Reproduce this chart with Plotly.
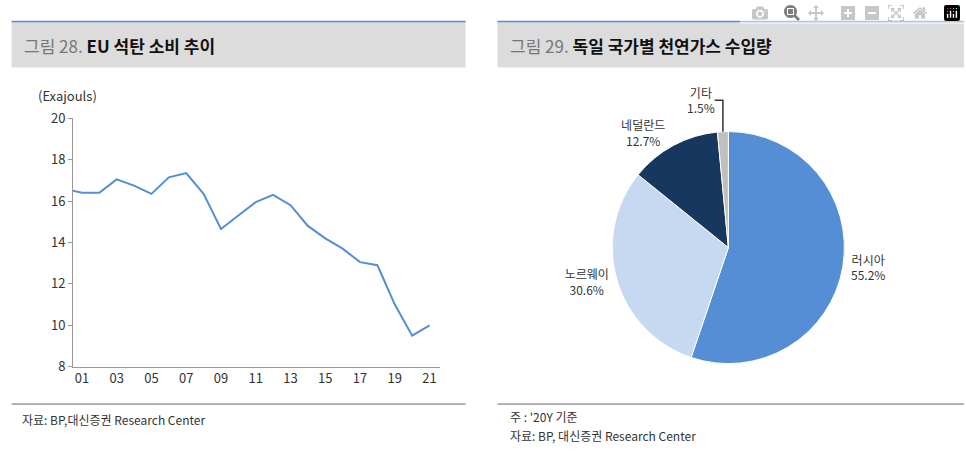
import plotly.graph_objects as go

years = list(range(2000, 2022))
coal = [16.6, 16.4, 16.4, 17.05, 16.75, 16.35, 17.15, 17.35, 16.35, 14.65, 15.3,
        15.95, 16.3, 15.8, 14.8, 14.2, 13.7, 13.05, 12.9, 11.0, 9.5, 10.0]
tick_vals = list(range(2001, 2022, 2))
tick_text = ['%02d' % (y % 100) for y in tick_vals]

countries = ['러시아', '노르웨이', '네덜란드', '기타']
shares = [55.2, 30.6, 12.7, 1.5]
pie_colors = ['#558ed5', '#c6d9f1', '#17375e', '#bfbfbf']

font = 'Noto Sans CJK KR'
fig = go.Figure()
fig.add_trace(go.Scatter(x=years, y=coal, mode='lines', cliponaxis=True,
                         line=dict(color='#558ed5', width=2), showlegend=False))
fig.add_trace(go.Pie(labels=countries, values=shares, sort=False, direction='clockwise',
                     rotation=0, marker=dict(colors=pie_colors, line=dict(color='white', width=1)),
                     text=[f'{c}<br>{s}%' for c, s in zip(countries, shares)],
                     textinfo='text', textposition='outside', hoverinfo='skip',
                     textfont=dict(size=12, color='#333'),
                     domain=dict(x=[0.625, 0.883], y=[0.200, 0.725]), showlegend=False))

fig.update_layout(
    width=966, height=461, margin=dict(l=0, r=0, t=0, b=0),
    plot_bgcolor='white', paper_bgcolor='white',
    font=dict(family=font, size=13, color='#333'),
    xaxis=dict(domain=[0.0756, 0.4555], range=[2000.49, 2021.6], tickvals=tick_vals,
               ticktext=tick_text, showgrid=False, showline=True, linecolor='#999',
               zeroline=False, ticks=''),
    yaxis=dict(domain=[0.193, 0.755], range=[8, 20], dtick=2, showgrid=False,
               showline=True, linecolor='#999', zeroline=False, ticks='outside',
               ticklen=4, tickcolor='#999'),
)

shapes = []
for x0, x1 in [(0.012, 0.482), (0.515, 0.998)]:
    shapes.append(dict(type='rect', xref='paper', yref='paper', x0=x0, x1=x1,
                       y0=1 - 60 / 461, y1=1 - 12 / 461, fillcolor='#dcdcdc', line_width=0))
    shapes.append(dict(type='line', xref='paper', yref='paper', x0=x0, x1=x1,
                       y0=1 - 12 / 461, y1=1 - 12 / 461, line=dict(color='#558ed5', width=1.5)))
    shapes.append(dict(type='line', xref='paper', yref='paper', x0=x0, x1=x1,
                       y0=1 - 411 / 461, y1=1 - 411 / 461, line=dict(color='#666', width=1)))
fig.update_layout(shapes=shapes)

def ann(x, y, text, size=13, color='#333'):
    fig.add_annotation(x=x / 966, y=1 - y / 461, xref='paper', yref='paper', text=text,
                       showarrow=False, xanchor='left', yanchor='middle',
                       font=dict(size=size, color=color, family=font))

ann(22, 37, '<span style="color:#777">그림 28.</span> <b>EU 석탄 소비 추이</b>', 17, '#111')
ann(508, 37, '<span style="color:#777">그림 29.</span> <b>독일 국가별 천연가스 수입량</b>', 17, '#111')
ann(36, 89, '(Exajouls)')
ann(20, 427, '자료: BP,대신증권 Research Center', 12)
ann(508, 424, '주 : \'20Y 기준', 12)
ann(508, 444, '자료: BP, 대신증권 Research Center', 12)

fig.write_html('out.html', post_script="document.body.style.margin='0';")
